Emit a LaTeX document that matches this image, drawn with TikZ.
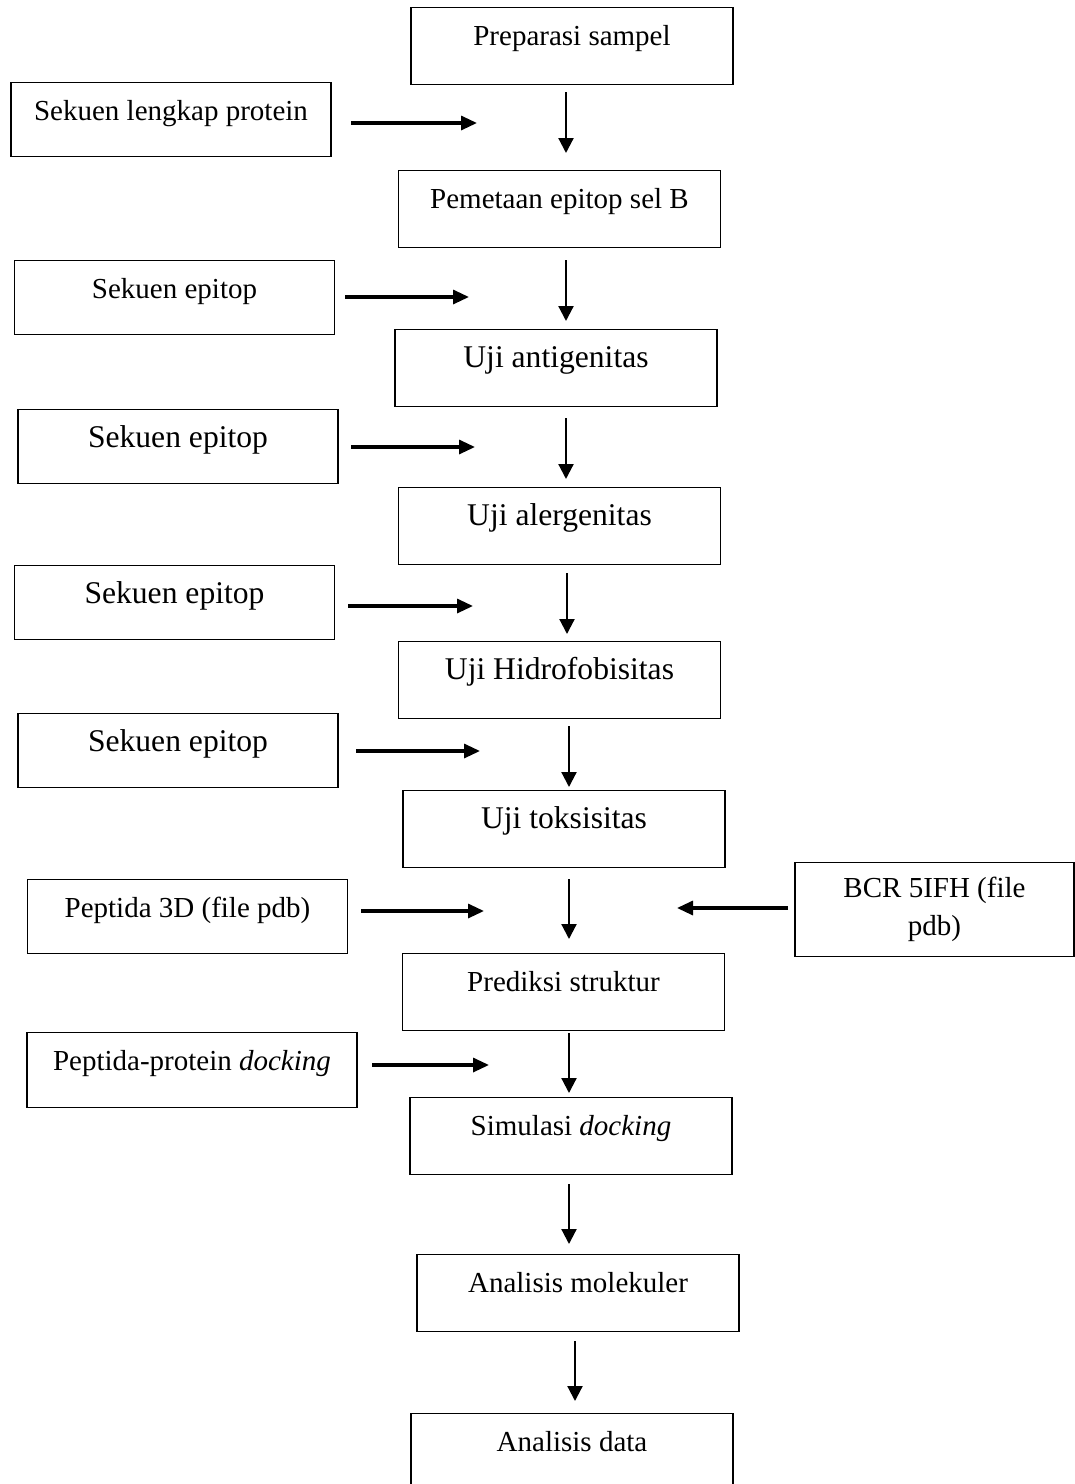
\documentclass[tikz,border=0pt]{standalone}
\usepackage{fontspec}
\setmainfont{Liberation Serif}
\usetikzlibrary{arrows.meta}

\tikzset{
  box/.style={draw, line width=0.6pt, inner sep=0pt, anchor=north, align=center},
  rbox/.style={box, minimum width=161pt, text height=19pt, text depth=19.5pt},
  lbox/.style={box, minimum width=160pt, text height=19pt, text depth=18pt},
  small/.style={font=\fontsize{14.5}{19}\selectfont},
  big/.style={font=\fontsize{15.8}{19}\selectfont},
  arr/.style={-{Triangle[length=7.5pt,width=7.5pt]}, line width=1.1pt},
  harr/.style={-{Triangle[length=8pt,width=7pt]}, line width=1.6pt},
}

\begin{document}
\begin{tikzpicture}[x=0.5pt, y=-0.5pt]
\useasboundingbox (0,0) rectangle (1075,1484);

% main column
\node[rbox, small] (prep)  at (572,7)     {Preparasi sampel};
\node[rbox, small] (map)   at (559.5,170) {Pemetaan epitop sel B};
\node[rbox, big]   (anti)  at (556,329)   {Uji antigenitas};
\node[rbox, big]   (aller) at (559.5,487) {Uji alergenitas};
\node[rbox, big]   (hydro) at (559.5,641) {Uji Hidrofobisitas};
\node[rbox, big]   (tox)   at (564,790)   {Uji toksisitas};
\node[rbox, small] (pred)  at (563.5,953) {Prediksi struktur};
\node[rbox, small] (sim)   at (571,1097)  {Simulasi \textit{docking}};
\node[rbox, small] (molec) at (578,1254)  {Analisis molekuler};
\node[rbox, small] (data)  at (572,1413)  {Analisis data};

% inputs on the left
\node[lbox, small] (seq)   at (171,82)    {Sekuen lengkap protein};
\node[lbox, small] (epi1)  at (174.5,260) {Sekuen epitop};
\node[lbox, big]   (epi2)  at (178,409)   {Sekuen epitop};
\node[lbox, big]   (epi3)  at (174.5,565) {Sekuen epitop};
\node[lbox, big]   (epi4)  at (178,713)   {Sekuen epitop};
\node[lbox, small] (pep)   at (187.5,879) {Peptida 3D (file pdb)};
\node[lbox, small, minimum width=165pt, text depth=18.5pt] (ppdock) at (192,1032) {Peptida-protein \textit{docking}};

% input on the right
\node[box, small, minimum width=139.5pt, minimum height=47pt] (bcr) at (934.5,862) {BCR 5IFH (file\\pdb)};

% arrows down the column
\foreach \n/\x/\ya/\yb in {1/566/92/153, 2/566/260/321, 3/566/418/479,
    4/567/573/634, 5/569/726/787, 6/569/879/939, 7/569/1033/1093,
    8/569/1184/1244, 9/575/1341/1401} {
  \coordinate (down\n a) at (\x,\ya);
  \coordinate (down\n b) at (\x,\yb);
  \draw[arr] (down\n a) -- (down\n b);
}

% arrows from the inputs
\foreach \n/\xa/\xb/\y in {1/351/477/123, 2/345/469/297, 3/351/475/447,
    4/348/473/606, 5/356/480/751, 6/361/484/911, 7/788/677/908,
    8/372/489/1065} {
  \coordinate (in\n a) at (\xa,\y);
  \coordinate (in\n b) at (\xb,\y);
  \draw[harr] (in\n a) -- (in\n b);
}
\end{tikzpicture}
\end{document}
